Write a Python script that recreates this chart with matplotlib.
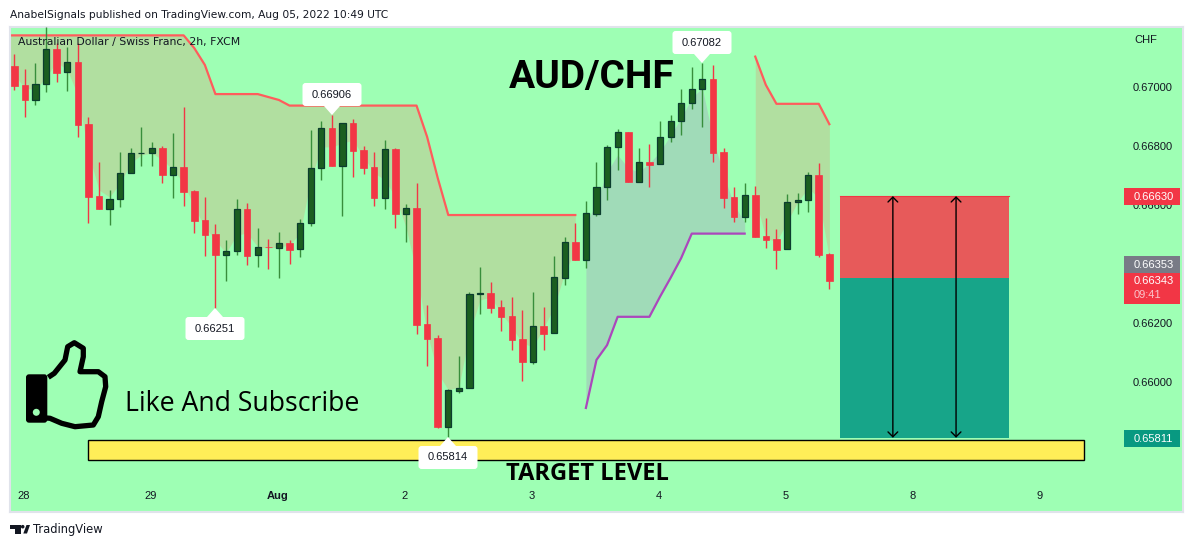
import matplotlib
matplotlib.use("Agg")
import matplotlib.pyplot as plt
import numpy as np
from matplotlib.patches import FancyBboxPatch, Polygon, Rectangle, Circle
from matplotlib.transforms import Affine2D

# 2h candles
opens = [.67071, .67007, .66957, .67009, .67128, .6705, .67084, .66874, .66631, .66588,
         .66619, .66708, .66775, .66775, .66792, .66703, .66728, .66646, .66548, .66502,
         .66432, .66443, .66585, .6643, .66457, .66455, .6647, .6645, .66538, .66724,
         .6686, .66733, .66877, .66786, .66728, .66625, .66789, .66571, .66589, .66196,
         .66149, .65848, .65971, .65979, .66299, .66301, .66253, .66223, .66145, .66069,
         .66189, .66165, .66354, .66474, .66415, .66571, .6666, .66796, .66846, .66677,
         .66746, .66738, .6683, .66884, .66945, .66992, .67026, .6678, .66626, .6656,
         .66633, .66495, .66484, .6645, .66609, .66616, .66701, .66433]
highs = [.67112, .67061, .67081, .67203, .67149, .67135, .67149, .66897, .66745, .66651,
         .66779, .66792, .66863, .66813, .66799, .66843, .66931, .6665, .66626, .66535,
         .6648, .66619, .66606, .66521, .66484, .66507, .6648, .66552, .66853, .66884,
         .66906, .66877, .66891, .668, .66779, .66819, .66792, .66602, .66674, .6626,
         .66158, .65975, .66088, .66305, .66389, .66339, .66278, .66287, .66243, .66304,
         .66253, .66426, .66491, .66538, .66613, .66745, .66802, .66857, .66846, .66792,
         .66806, .66884, .66905, .66992, .67067, .67082, .67074, .66792, .6666, .66674,
         .66663, .66555, .66518, .66636, .6664, .66711, .66741, .66436]
lows = [.66991, .66899, .6694, .66984, .67018, .66988, .66832, .6654, .66588, .66533,
        .66594, .66708, .66733, .66733, .66676, .66625, .66598, .66506, .66428, .66251,
        .66343, .66432, .66398, .66391, .66384, .66354, .66401, .66425, .6653, .66686,
        .66733, .66563, .66696, .66706, .66598, .66588, .66523, .66476, .66164, .66055,
        .65843, .65814, .65962, .65979, .66232, .66235, .66174, .6611, .66003, .66062,
        .6611, .66165, .6633, .66415, .66387, .66564, .66618, .6672, .66677, .66677,
        .66662, .66738, .66813, .66838, .66924, .66865, .66747, .66591, .66543, .66543,
        .66493, .66455, .66384, .6645, .66571, .66577, .66425, .66316]
closes = [.67004, .66957, .67009, .67128, .67049, .67084, .66872, .66628, .66588, .66619,
          .66708, .66775, .66776, .66792, .66703, .66728, .66645, .66547, .66499, .66432,
          .66443, .66585, .66428, .66457, .66456, .6647, .66449, .66538, .66724, .6686,
          .66733, .66877, .66784, .66726, .66625, .66789, .66571, .66589, .66194, .66147,
          .65846, .65972, .65979, .66297, .663, .66252, .66221, .66143, .66069, .66189,
          .66164, .66355, .66474, .66415, .66572, .6666, .66796, .66846, .66677, .66745,
          .66737, .6683, .66884, .66945, .66992, .67026, .66777, .66625, .6656, .66633,
          .66493, .66482, .66449, .66609, .66616, .66701, .66432, .66343]

# upper band / lower edge, first stretch starts one bar before the screen
band1_upper = [.67175] * 18 + [.67132, .67075] + [.66976] * 5 + [.66966, .66956] + [.66937] * 13 + [.66831, .66692] + [.66566] * 13
band1_lower = [.67075, .67041, .66997, .6699, .67034, .67085, .67058, .66973, .66776, .66651,
               .66627, .66675, .66742, .6677, .66776, .66753, .66719, .66675, .66593, .66525,
               .66481, .66437, .66498, .66505, .66458, .66454, .66458, .66464, .66505, .66685,
               .66797, .66797, .6681, .6682, .66763, .66709, .66685, .66627, .66525, .6637,
               .66166, .66031, .65973, .65983, .66166, .66278, .66288, .66234, .66186, .66132,
               .66119, .66183, .66254, .6637, .66447]
band2_upper = [.66532, .6661, .66712, .6677, .66725, .66712, .66742, .6678, .66837, .66895,
               .66963, .66997, .66827, .66702, .666, .66542]
band2_lower = [.65912, .66075, .66125, .66221, .66221, .66221, .66221, .66289, .66353, .6642,
               .66503, .66503, .66503, .66503, .66503, .66503]
band3_upper = [.67103, .67007, .66943, .66943, .66943, .66943, .66943, .66874]
band3_lower = [.66624, .66488, .66475, .66542, .6661, .66658, .66624, .6642]

date_labels = ["28", "29", "Aug", "2", "3", "4", "5", "8", "9"]
date_bars = [0.85, 12.85, 24.85, 36.85, 48.85, 60.85, 72.85, 84.85, 96.85]
price_ticks = [.67, .668, .666, .664, .662, .66]

callouts = [(65, .67082, "0.67082", 1), (30, .66906, "0.66906", 1),
            (19, .66251, "0.66251", -1), (41, .65814, "0.65814", -1)]

entry_price = .66353
stop_price = .6663
target_price = .65811

BG = "#9effb4"
RED = "#f23645"
GREEN = "#1b5e20"
DARK = "#131722"
LABEL_FONT = "Liberation Sans"

W, H = 1194, 547
fig = plt.figure(figsize=(W / 100, H / 100), dpi=100, facecolor="white")
# chart pane in pixels: x 10..1183, y 27..512
ax = fig.add_axes([10 / W, 1 - 512 / H, 1173 / W, 485 / H], facecolor=BG)
ax.set_xlim(-0.406, 110.41)
ax.set_ylim(0.655593, 0.672034)
for s in ax.spines.values():
    s.set_color("#e0e3eb")
    s.set_linewidth(1.5)

# top left pixel coordinates, for things that are not tied to a price
px = Affine2D().scale(1 / W, -1 / H).translate(0, 1) + fig.transFigure

bars = np.arange(len(opens))
o, h, l, c = map(np.array, (opens, highs, lows, closes))

b1 = np.arange(-1, 54)
ax.fill_between(b1, band1_lower, band1_upper, color="#b1dfa0", lw=0, zorder=1)
ax.plot(b1, band1_upper, color="#ff5c5c", lw=1.6, zorder=2)
b2 = np.arange(54, 70)
ax.fill_between(b2, band2_lower, band2_upper, color="#a0dbb8", lw=0, zorder=1)
ax.plot(b2, band2_lower, color="#ab47bc", lw=1.6, zorder=2)
b3 = np.arange(70, 78)
ax.fill_between(b3, band3_lower, band3_upper, color="#b1dfa0", lw=0, zorder=1)
ax.plot(b3, band3_upper, color="#ff5c5c", lw=1.6, zorder=2)

up = c >= o
ax.vlines(bars[up], l[up], h[up], color="#388e3c", lw=1, zorder=3)
ax.vlines(bars[~up], l[~up], h[~up], color=RED, lw=1, zorder=3)
ax.bar(bars[up], (c - o)[up], bottom=o[up], width=0.58, color=GREEN, edgecolor="#0b3d2e", lw=0.9, zorder=4)
ax.bar(bars[~up], (c - o)[~up], bottom=o[~up], width=0.62, color=RED, edgecolor=RED, lw=0.5, zorder=4)

# short position tool
ax.add_patch(Rectangle((78, entry_price), 15.97, stop_price - entry_price, fc="#e75a5a", ec="none", zorder=2))
ax.add_patch(Rectangle((78, target_price), 15.97, entry_price - target_price, fc="#17a589", ec="none", zorder=2))
ax.plot([78, 93.97], [stop_price, stop_price], color=RED, lw=0.8, zorder=3)
for xb in (83, 88.97):
    ax.annotate("", xy=(xb, target_price), xytext=(xb, stop_price), zorder=5,
                arrowprops=dict(arrowstyle="<->,head_width=0.35,head_length=0.35", mutation_scale=10,
                                color="black", lw=1, shrinkA=0, shrinkB=0))

# target bar
ax.add_patch(Rectangle((6.99, .657346), 94.07, .000678, fc="#ffee58", ec="black", lw=1, zorder=3))

# high / low callouts
for bar, price, txt, side in callouts:
    cx, cy = ax.transData.transform((bar, price))
    cx, cy = round(cx), round(cy)
    base = cy + side * 9
    box_y = base if side > 0 else base - 23
    fig.patches.append(FancyBboxPatch((cx - 27.5, box_y + 2), 55, 19, boxstyle="round,pad=2,rounding_size=3", fc="white", ec="none",
                                      transform=None, figure=fig, zorder=6))
    fig.patches.append(Polygon([(cx, cy), (cx - 8, base), (cx + 8, base)], fc="white", ec="none", transform=None, figure=fig, zorder=6))
    fig.text(cx / W, (box_y + 11.5) / H, txt, ha="center", va="center", color=DARK, fontsize=8, family=LABEL_FONT, zorder=7)

ax.set_xticks(date_bars)
ax.set_xticklabels(date_labels, fontsize=8, color=DARK, family=LABEL_FONT)
ax.get_xticklabels()[2].set_fontweight("bold")
ax.tick_params(axis="x", length=0, pad=-15, direction="in")
ax.yaxis.tick_right()
ax.set_yticks(price_ticks)
ax.set_yticklabels(["%.5f" % p for p in price_ticks], fontsize=8, color=DARK, ha="left", family=LABEL_FONT)
ax.tick_params(axis="y", length=0, pad=-36)

# price scale labels
tags = [(188, 17, RED), (256, 17, "#787b86"), (273, 31, RED), (430, 17, "#089981")]
for top, height, col in tags:
    ax.add_patch(Rectangle((1124, top), 56, height, fc=col, ec="none", transform=px, clip_on=False, zorder=5))
for y, txt, col in [(196.5, "0.66630", "white"), (264.5, "0.66353", "white"), (281.5, "0.66343", "white"),
                    (295.5, "09:41", "#fbc4ca"), (438.5, "0.65811", "white")]:
    ax.text(1133.5, y, txt, color=col, fontsize=8, va="center", ha="left", family=LABEL_FONT, transform=px, zorder=6)
ax.text(1134, 40, "CHF", color=DARK, fontsize=8, va="center", family=LABEL_FONT, transform=px)

ax.text(18, 41.5, "Australian Dollar / Swiss Franc, 2h, FXCM", color=DARK, fontsize=7.85, va="center", transform=px, zorder=6)
ax.text(591.5, 78, "AUD/CHF", color="black", fontsize=28, fontweight="bold", family="Roboto", ha="center", va="center", transform=px, zorder=6)
ax.text(587, 474.5, "TARGET LEVEL", color="black", fontsize=17, fontweight="bold", family="Open Sans", ha="center", va="center", transform=px, zorder=6)
ax.text(125, 404, "Like And Subscribe", color="black", fontsize=19.2, family="Open Sans", ha="left", va="center", transform=px, zorder=6)

# thumbs up icon
thumb = [(48.3, 377.3), (54.3, 373.3), (65, 360), (67.7, 346.7), (74.3, 342.7), (83.3, 348.3), (83.3, 356.7),
         (80, 371.7), (98.3, 371.7), (105, 376.7), (105.7, 386.7), (101.7, 401.7), (98.3, 416.7),
         (93.3, 425), (75, 426.7), (61.7, 423.3), (50, 418.3), (38.3, 417.3)]
ax.add_patch(Polygon(thumb, closed=False, fill=False, ec="black", lw=3.8, joinstyle="round", transform=px, zorder=6))
ax.add_patch(FancyBboxPatch((27.5, 375.8), 18.3, 45.4, boxstyle="round,pad=1.5,rounding_size=3", fc="black", ec="none", transform=px, zorder=6))
ax.add_patch(Circle((36.3, 412.3), 3.5, fc=BG, ec="none", transform=px, zorder=7))

# header and logo
fig.text(10 / W, 1 - 15 / H, "AnabelSignals published on TradingView.com, Aug 05, 2022 10:49 UTC", color=DARK, fontsize=7.68, va="center")
fig.text(33.3 / W, 1 - 530 / H, "TradingView", color=DARK, fontsize=8.3, va="center")
logo_t = [(10, 525), (20.5, 525), (20.5, 533.5), (14.5, 533.5), (14.5, 528.5), (10, 528.5)]
logo_s = [(23.3, 533.5), (26.5, 525), (30, 525), (27, 533.5)]
fig.patches.append(Polygon(logo_t, fc=DARK, ec="none", transform=px, figure=fig))
fig.patches.append(Polygon(logo_s, fc=DARK, ec="none", transform=px, figure=fig))
fig.patches.append(Circle((22.7, 526.7), 1.8, fc=DARK, ec="none", transform=px, figure=fig))

fig.savefig("out.png", dpi=100, facecolor="white")
